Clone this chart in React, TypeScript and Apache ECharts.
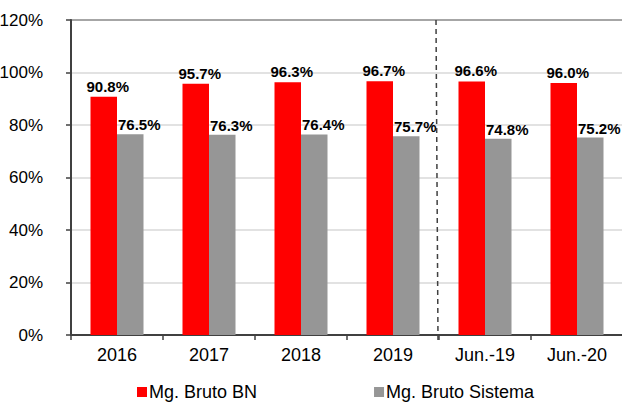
import React, { useEffect, useRef } from "react";
import * as echarts from "echarts";

const categories = ["2016", "2017", "2018", "2019", "Jun.-19", "Jun.-20"];
const seriesBN = [90.8, 95.7, 96.3, 96.7, 96.6, 96.0];
const seriesSistema = [76.5, 76.3, 76.4, 75.7, 74.8, 75.2];
const seriesNames = ["Mg. Bruto BN", "Mg. Bruto Sistema"];
const yTicks = [0, 20, 40, 60, 80, 100, 120];

const FONT = "Arial, 'Liberation Sans', sans-serif";

export default function App() {
  const ref = useRef<HTMLDivElement>(null);
  useEffect(() => {
    if (!ref.current) return;
    const chart = echarts.init(ref.current, undefined, { renderer: "svg" });
    const gridTop = 20;
    const gridHeight = 315;
    const labelStyle = {
      show: true,
      position: "top",
      fontSize: 15,
      fontWeight: "bold",
      color: "#000",
      fontFamily: FONT,
      formatter: (p: any) => p.value.toFixed(1) + "%",
    };
    chart.setOption({
      animation: false,
      textStyle: { fontFamily: FONT },
      grid: {
        left: 71,
        top: gridTop,
        width: 552,
        height: gridHeight,
        containLabel: false,
        outerBoundsMode: "none",
      },
      legend: {
        left: 132,
        top: 378,
        itemWidth: 10,
        itemHeight: 10,
        itemGap: 117,
        icon: "rect",
        textStyle: { fontSize: 18, color: "#000", fontFamily: FONT, padding: [0, 0, 0, -3] },
        data: seriesNames,
      },
      xAxis: {
        type: "category",
        data: categories,
        axisLine: { lineStyle: { color: "#404040", width: 2 } },
        axisTick: { show: true, length: 5, lineStyle: { color: "#404040", width: 1.5 } },
        axisLabel: { fontSize: 18, color: "#000", margin: 11, fontFamily: FONT },
      },
      yAxis: {
        type: "value",
        min: yTicks[0],
        max: yTicks[yTicks.length - 1],
        interval: 20,
        axisLine: { show: true, lineStyle: { color: "#404040", width: 2 } },
        axisTick: { show: true, length: 5, lineStyle: { color: "#404040", width: 1.5 } },
        axisLabel: { fontSize: 17, color: "#000", margin: 28, formatter: "{value}%", fontFamily: FONT },
        splitLine: {
          show: true,
          lineStyle: {
            color: ["#d9d9d9", "#d9d9d9", "#d9d9d9", "#d9d9d9", "#d9d9d9", "#d9d9d9", "#888888"],
            width: 1.5,
          },
        },
      },
      series: [
        {
          name: seriesNames[0],
          type: "bar",
          data: seriesBN,
          barWidth: 26.5,
          barGap: "0%",
          itemStyle: { color: "#FF0000" },
          label: { ...labelStyle, distance: 3, offset: [4, 0] },
        },
        {
          name: seriesNames[1],
          type: "bar",
          data: seriesSistema,
          barWidth: 26.5,
          barGap: "0%",
          itemStyle: { color: "#969696" },
          label: { ...labelStyle, distance: 2, offset: [9, 0] },
        },
      ],
    });
    const a = chart.convertToPixel({ xAxisIndex: 0 }, categories[3]) as number;
    const b = chart.convertToPixel({ xAxisIndex: 0 }, categories[4]) as number;
    const x = (a + b) / 2 - 2;
    chart.setOption({
      graphic: [
        {
          type: "line",
          shape: { x1: x - 1, y1: gridTop, x2: x + 1, y2: gridTop + gridHeight + 5 },
          style: { stroke: "#404040", lineWidth: 1.5, lineDash: [5, 4] },
          z: 10,
        },
      ],
    });
    return () => chart.dispose();
  }, []);
  return <div ref={ref} style={{ width: 622, height: 403, position: "absolute", left: 0, top: 0 }} />;
}
